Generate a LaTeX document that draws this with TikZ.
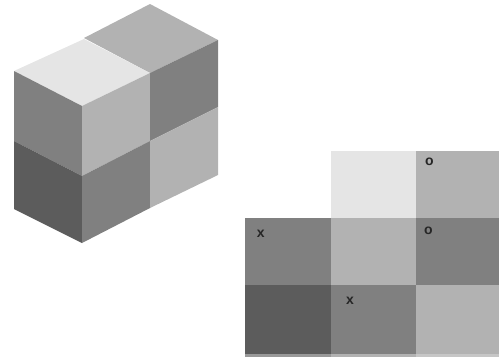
\documentclass[tikz,border=0pt]{standalone}
\usepackage{xcolor}
\usepackage{fontspec}
\setmainfont{Liberation Sans}
\definecolor{shadeA}{gray}{0.90}
\definecolor{shadeB}{gray}{0.70}
\definecolor{shadeC}{gray}{0.50}
\definecolor{shadeD}{gray}{0.36}

\begin{document}
\begin{tikzpicture}[
  x=1pt,y=-1pt,
  lite/.style={fill=shadeA},
  pale/.style={fill=shadeB},
  midd/.style={fill=shadeC},
  dark/.style={fill=shadeD},
  tag/.style={inner sep=0pt,font=\bfseries\fontsize{14}{14}\selectfont,text=black!85}
]
\useasboundingbox (0,0) rectangle (499,360);
% block, top faces
\fill[pale] (150,4) -- (218,40) -- (150,73) -- (84,38) -- cycle;
\fill[lite] (84,39) -- (150,73) -- (82,106) -- (14,71) -- cycle;
% block, left faces
\fill[midd] (14,71) -- (82,106) -- (82,176) -- (14,141) -- cycle;
\fill[dark] (14,141) -- (82,176) -- (82,243) -- (14,209) -- cycle;
% block, right faces
\fill[pale] (82,106) -- (150,73) -- (150,141) -- (82,176) -- cycle;
\fill[midd] (150,73) -- (218,40) -- (218,107) -- (150,141) -- cycle;
\fill[midd] (82,176) -- (150,141) -- (150,208) -- (82,243) -- cycle;
\fill[pale] (150,141) -- (218,107) -- (218,175) -- (150,208) -- cycle;
% flat grid
\fill[lite] (331,151) rectangle (416,218);
\fill[pale] (416,151) rectangle (499,218);
\fill[midd] (245,218) rectangle (331,285);
\fill[pale] (331,218) rectangle (416,285);
\fill[midd] (416,218) rectangle (499,285);
\fill[dark] (245,285) rectangle (331,354);
\fill[midd] (331,285) rectangle (416,354);
\fill[pale] (416,285) rectangle (499,354);
% strip under the grid
\fill[gray!80] (245,354) rectangle (331,357);
\fill[gray!60] (331,354) rectangle (416,357);
\fill[gray!45] (416,354) rectangle (499,357);
\node[tag] (x1) at (260.7,234) {x};
\node[tag] (x2) at (350,300.5) {x};
\node[tag] (o1) at (429.5,162) {o};
\node[tag] (o2) at (428.5,230.5) {o};
\end{tikzpicture}
\end{document}
